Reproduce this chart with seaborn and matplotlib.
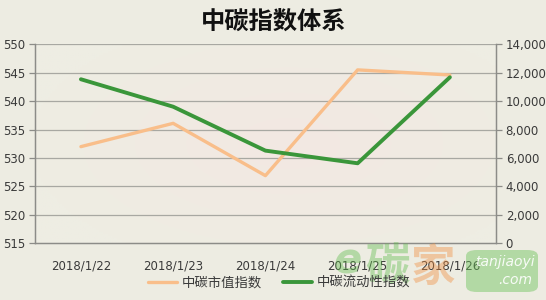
import matplotlib
matplotlib.use("Agg")
import matplotlib.pyplot as plt
import seaborn as sns
import pandas as pd
import numpy as np
from matplotlib.lines import Line2D
from matplotlib.patches import FancyBboxPatch

dates = ["2018/1/22", "2018/1/23", "2018/1/24", "2018/1/25", "2018/1/26"]
market_index = [532.0, 536.1, 526.9, 545.5, 544.6]
liquidity_index = [11540, 9610, 6520, 5630, 11680]
left_ticks = [515, 520, 525, 530, 535, 540, 545, 550]
right_ticks = [0, 2000, 4000, 6000, 8000, 10000, 12000, 14000]
title = "中碳指数体系"
legend_labels = ["中碳市值指数", "中碳流动性指数"]

sns.set_theme(style="white")
plt.rcParams['font.family'] = ['Noto Sans CJK SC', 'DejaVu Sans']

orange = "#F9BE8A"
green = "#3A963A"
bg = "#EDECE2"
grid_c = "#A8A8A2"
text_c = "#3A3A3A"

df = pd.DataFrame({"date": dates, "x": np.arange(len(dates)),
                   "market": market_index, "liq": liquidity_index})

fig = plt.figure(figsize=(5.46, 3.0), dpi=100, facecolor=bg)
ax = fig.add_axes([34.8/546, 1 - 243.3/300, (496-34.8)/546, (243.3-44.3)/300])
ax.set_facecolor("#F0EBE3")

# soft gradient background in plot area
gx = np.linspace(-1, 1, 200)
gy = np.linspace(-1, 1, 100)
GX, GY = np.meshgrid(gx, gy)
r = np.clip(np.sqrt((GX - 0.1)**2 * 0.8 + GY**2 * 0.6), 0, 1)
c_center = np.array([0xF3, 0xE8, 0xE2]) / 255
c_edge = np.array([0xEE, 0xED, 0xE3]) / 255
img = c_center[None, None, :] * (1 - r[..., None]) + c_edge[None, None, :] * r[..., None]
ax.imshow(img, extent=[-0.5, 4.5, 515, 550], aspect="auto", zorder=0)

sns.lineplot(data=df, x="x", y="market", ax=ax, color=orange, linewidth=2.4,
             zorder=3, legend=False)
ax.set_xlim(-0.5, 4.5)
ax.set_ylim(515, 550)
ax.set_yticks(left_ticks)
ax.set_xticks(df["x"])
ax.set_xticklabels(dates)
ax.set_xlabel("")
ax.set_ylabel("")
for yv in left_ticks[1:]:
    ax.axhline(yv, color=grid_c, linewidth=0.9, zorder=1)

ax2 = ax.twinx()
sns.lineplot(data=df, x="x", y="liq", ax=ax2, color=green, linewidth=2.8,
             zorder=3, legend=False)
ax2.set_ylim(0, 14000)
ax2.set_yticks(right_ticks)
ax2.set_yticklabels([f"{v:,}" for v in right_ticks])
ax2.set_xlim(-0.5, 4.5)
ax2.set_ylabel("")
ax2.set_xlabel("")

for a in (ax, ax2):
    for s in a.spines.values():
        s.set_color("#8C8C88")
        s.set_linewidth(0.9)
    a.spines["top"].set_visible(False)

ax.tick_params(axis="y", which="both", left=True, length=4, width=0.9,
               color="#8C8C88", labelsize=8.5, labelcolor=text_c, pad=3)
ax.tick_params(axis="x", bottom=False, labelsize=8.5, labelcolor=text_c, pad=6)
ax2.tick_params(axis="y", right=True, length=4, width=0.9, color="#8C8C88",
                labelsize=8.5, labelcolor=text_c, pad=3)
for lab in ax.get_xticklabels() + ax.get_yticklabels() + ax2.get_yticklabels():
    lab.set_family(['DejaVu Sans'])

fig.text(0.501, 0.925, title, ha="center", va="center", fontsize=17.5,
         fontweight="bold", color="#111111")

handles = [Line2D([0], [0], color=orange, linewidth=2.4),
           Line2D([0], [0], color=green, linewidth=2.8)]
fig.legend(handles, legend_labels, loc="center", bbox_to_anchor=(0.511, 0.058),
           ncol=2, frameon=False, fontsize=9.6, handlelength=2.2,
           handletextpad=0.3, columnspacing=1.6, labelcolor=text_c)

# faint watermark logo (as in the reference, it sits over the axis labels)
fig.text(387/546, 1 - 268/300, "碳", ha="center", va="center", fontsize=32,
         fontweight="bold", color="#5DBB4A", alpha=0.4)
fig.text(432/546, 1 - 268/300, "家", ha="center", va="center", fontsize=32,
         fontweight="bold", color="#F08C3C", alpha=0.4)
fig.text(348/546, 1 - 262/300, "e", ha="center", va="center", fontsize=30,
         fontstyle="italic", fontweight="bold", color="#5DBB4A", alpha=0.4,
         family=['DejaVu Sans'])
box = FancyBboxPatch((466/546, 1 - 292/300), 72/546, 42/300,
                     boxstyle="round,pad=0.0,rounding_size=0.02",
                     transform=fig.transFigure, facecolor="#6CC25A",
                     edgecolor="none", alpha=0.45)
fig.patches.append(box)
fig.text(505/546, 1 - 262/300, "tanjiaoyi", ha="center", va="center",
         fontsize=10, color="white", alpha=0.9, fontstyle="italic",
         family=['DejaVu Sans'])
fig.text(515/546, 1 - 280/300, ".com", ha="center", va="center",
         fontsize=10, color="white", alpha=0.9, fontstyle="italic",
         family=['DejaVu Sans'])

fig.savefig("out.png", dpi=100, facecolor=bg)
